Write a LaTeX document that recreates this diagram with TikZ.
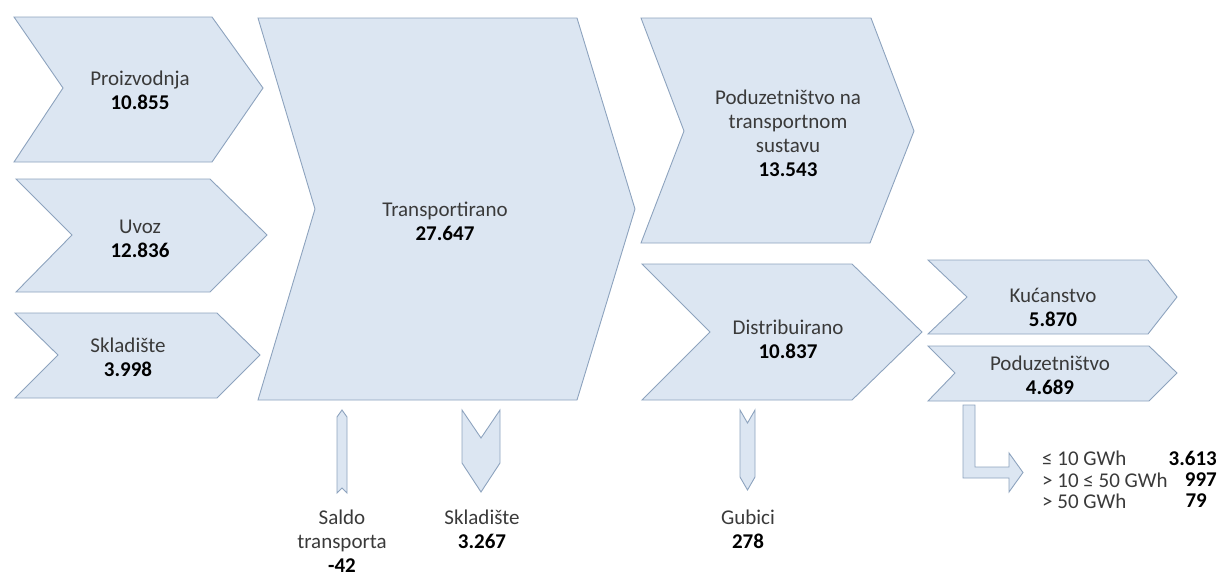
\documentclass[tikz,border=0pt]{standalone}
\usepackage{fontspec}
\setmainfont{Carlito}
\definecolor{chevfill}{HTML}{DCE6F2}
\definecolor{chevline}{HTML}{8DA3BE}
\definecolor{txtgray}{HTML}{3A3A3A}
\newcommand{\gasval}[1]{\textcolor{black}{\textbf{#1}}}

\begin{document}
\begin{tikzpicture}[x=1pt,y=-1pt,
  chev/.style={draw=chevline, fill=chevfill, line width=0.9pt, line join=miter},
  lbl/.style={align=center, text=txtgray, inner sep=0pt, font=\fontsize{21}{24}\selectfont},
  row/.style={text=txtgray, inner sep=0pt, font=\fontsize{21}{24}\selectfont}]
\useasboundingbox (0,0) rectangle (1219,576);
% ulaz
\draw[chev] (14,17) -- (212,17) -- (263,88) -- (212,162) -- (14,162) -- (63,88) -- cycle;
\draw[chev] (16,179) -- (210,179) -- (267,235) -- (210,292) -- (16,292) -- (72,235) -- cycle;
\draw[chev] (15,313) -- (217,313) -- (260,355) -- (217,398) -- (15,398) -- (58,355) -- cycle;
\node[lbl] (proizvodnja) at (140,90) {Proizvodnja\\\gasval{10.855}};
\node[lbl] (uvoz) at (140,239) {Uvoz\\\gasval{12.836}};
\node[lbl] (skladiste) at (128,357) {Skladište\\\gasval{3.998}};
% transport
\draw[chev] (258,18) -- (577,18) -- (635,209) -- (577,400) -- (258,400) -- (315,209) -- cycle;
\node[lbl] (transport) at (445,221) {Transportirano\\\gasval{27.647}};
% izlaz
\draw[chev] (641,18) -- (871,18) -- (914,131) -- (870,243) -- (641,243) -- (684,131) -- cycle;
\draw[chev] (642,264) -- (852,264) -- (922,332) -- (852,400) -- (642,400) -- (710,332) -- cycle;
\node[lbl] (poduzetnistvoT) at (788,133) {Poduzetništvo na\\transportnom\\sustavu\\\gasval{13.543}};
\node[lbl] (distribuirano) at (788,339) {Distribuirano\\\gasval{10.837}};
% potrosaci
\draw[chev] (928,260) -- (1148,260) -- (1177,297) -- (1148,334) -- (928,334) -- (967,297) -- cycle;
\draw[chev] (928,346) -- (1149,346) -- (1177,373) -- (1149,401) -- (928,401) -- (955,373) -- cycle;
\node[lbl] (kucanstvo) at (1053,307) {Kućanstvo\\\gasval{5.870}};
\node[lbl] (poduzetnistvo) at (1050,375) {Poduzetništvo\\\gasval{4.689}};
% male strelice
\draw[chev] (342,410) -- (347,417) -- (347,493) -- (342,488) -- (337,493) -- (337,417) -- cycle;
\draw[chev] (462,410) -- (481,438) -- (500,410) -- (500,463) -- (481,492) -- (462,463) -- cycle;
\draw[chev] (740,410) -- (747.5,423) -- (755,410) -- (755,477) -- (747.5,490) -- (740,477) -- cycle;
\draw[chev] (963,405) -- (975,405) -- (975,467) -- (1009,467) -- (1009,453) -- (1023,472.5)
  -- (1009,492) -- (1009,478) -- (963,478) -- cycle;
\node[lbl, anchor=north] (saldo) at (342,510) {Saldo\\transporta\\\gasval{-42}};
\node[lbl, anchor=north] (skladisteT) at (482,510) {Skladište\\\gasval{3.267}};
\node[lbl, anchor=north] (gubici) at (748,510) {Gubici\\\gasval{278}};
% razredi
\node[row, anchor=west] (r1) at (1042,458) {≤ 10 GWh};
\node[row, anchor=west] (r2) at (1042,480) {> 10 ≤ 50 GWh};
\node[row, anchor=west] (r3) at (1042,501) {> 50 GWh};
\node[row, anchor=east] (v1) at (1217,458) {\gasval{3.613}};
\node[row, anchor=east] (v2) at (1217,480) {\gasval{997}};
\node[row, anchor=east] (v3) at (1207,501) {\gasval{79}};
\end{tikzpicture}
\end{document}
